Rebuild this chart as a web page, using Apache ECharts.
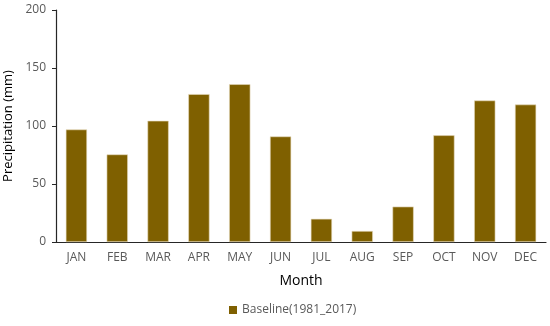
<!DOCTYPE html>
<html>
<head>
<meta charset="utf-8">
<script src="https://cdn.jsdelivr.net/npm/echarts@6/dist/echarts.min.js"></script>
<style>html,body{margin:0;padding:0;background:#fff}#c{width:550px;height:326px}</style>
</head>
<body>
<div id="c"></div>
<script>
var categories = ['JAN','FEB','MAR','APR','MAY','JUN','JUL','AUG','SEP','OCT','NOV','DEC'];
var baseline = [97, 75.5, 104.5, 127.5, 136, 91, 20, 9.5, 30.5, 92, 122, 118.5];
var yTicks = [0, 50, 100, 150, 200];
var seriesName = 'Baseline(1981_2017)';

var font = "'Open Sans', 'Noto Sans', sans-serif";
var chart = echarts.init(document.getElementById('c'), null, {renderer: 'canvas'});
chart.setOption({
  animation: false,
  textStyle: {fontFamily: font},
  grid: {left: 56, right: 4, top: 10, bottom: 84, containLabel: false, outerBoundsMode: 'none'},
  legend: {
    data: [seriesName],
    bottom: 5,
    left: 224,
    itemWidth: 8,
    itemHeight: 8,
    icon: 'rect',
    itemGap: 4,
    itemStyle: {borderWidth: 0},
    textStyle: {fontSize: 12, color: '#595959', fontFamily: font}
  },
  xAxis: {
    type: 'category',
    data: categories,
    name: 'Month',
    nameLocation: 'middle',
    nameGap: 32,
    nameTextStyle: {fontSize: 14, color: '#000', fontFamily: font},
    axisLine: {lineStyle: {color: '#262626', width: 1.2}},
    axisTick: {show: false},
    axisLabel: {fontSize: 12, color: '#595959', margin: 10, fontFamily: font}
  },
  yAxis: {
    type: 'value',
    min: 0,
    max: 200,
    interval: 50,
    name: 'Precipitation (mm)',
    nameLocation: 'middle',
    nameGap: 40,
    nameTextStyle: {fontSize: 13, color: '#000', fontFamily: font},
    axisLine: {show: true, lineStyle: {color: '#262626', width: 1.2}},
    axisTick: {show: true, length: 4, lineStyle: {color: '#262626'}},
    splitLine: {show: false},
    axisLabel: {fontSize: 12, color: '#595959', margin: 10, fontFamily: font,
      formatter: function(v){ return yTicks.indexOf(v) >= 0 ? String(v) : ''; }}
  },
  series: [{
    name: seriesName,
    type: 'bar',
    data: baseline,
    barWidth: '52%',
    itemStyle: {color: '#7F6000', borderColor: '#e8dcc0', borderWidth: 0.6}
  }]
});
</script>
</body>
</html>
